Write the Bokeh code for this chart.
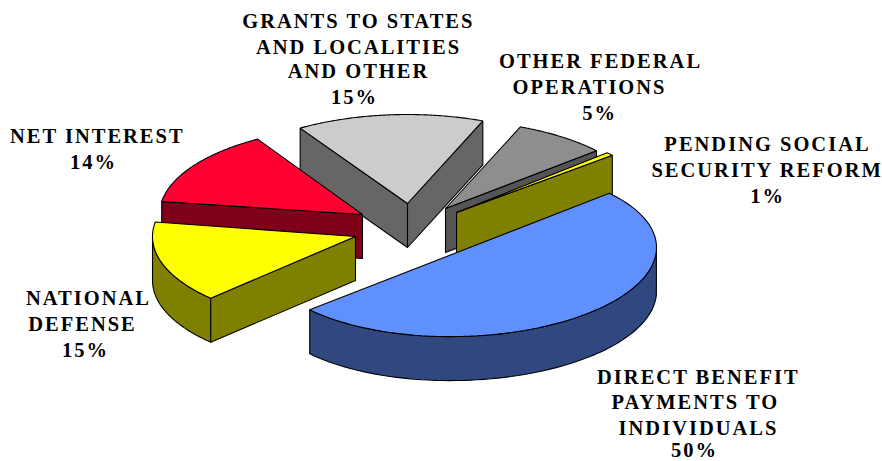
import numpy as np
from bokeh.plotting import figure
from bokeh.embed import file_html
from bokeh.resources import INLINE
from bokeh.core.properties import value

# data, in the chart's clockwise order, starting from the blue slice
names = ["DIRECT BENEFIT PAYMENTS TO INDIVIDUALS", "NATIONAL DEFENSE", "NET INTEREST",
         "GRANTS TO STATES AND LOCALITIES AND OTHER", "OTHER FEDERAL OPERATIONS",
         "PENDING SOCIAL SECURITY REFORM"]
shares = [50, 15, 14, 15, 5, 1]
label_lines = [["DIRECT BENEFIT", "PAYMENTS TO", "INDIVIDUALS"], ["NATIONAL", "DEFENSE"], ["NET INTEREST"],
               ["GRANTS TO STATES", "AND LOCALITIES", "AND OTHER"], ["OTHER FEDERAL", "OPERATIONS"],
               ["PENDING SOCIAL", "SECURITY REFORM"]]
top_colors = ["#6090FF", "#FFFF00", "#FF0033", "#CCCCCC", "#8E8E8E", "#FFFF00"]
side_colors = ["#30487F", "#808000", "#7F0019", "#666666", "#555555", "#808000"]

# layout of the exploded pie (pixels of the page)
cx = [459, 355, 362, 407, 445, 456]
cy = [251, 236, 214, 203, 208, 212]
rx = [197, 203, 203, 202, 200, 205]
ry = [85, 88, 88, 89, 88, 88]
rot = [-2, 2, 3, 4, 3.9, -3.4]       # turn of each slice caused by the 3-D view
stretch = [1, 1, 1, 1, 1.5, 0.6]     # widening of a slice's arc in the 3-D view
tilt = [4, 0, 0, 0, 0, 0]
depth = 44
start = 42.5
draw_order = [3, 2, 1, 4, 5, 0]
tracking = 2.0
font_px = 20.5
label_cx = [[698, 695, 698, 694], [88, 82, 85], [97, 93], [358, 358, 358, 354], [600, 589, 599], [767, 767, 767]]
label_cy = [[376, 401, 427, 449.5], [297, 323, 349], [135, 161], [20, 46, 70, 96], [60, 86, 112], [143, 169, 195]]

p = figure(width=882, height=461, x_range=(0, 882), y_range=(461, 0), toolbar_location=None,
           output_backend="svg", min_border=0, outline_line_color=None)
p.axis.visible = False
p.grid.visible = False
p.stylesheets = [f":host {{ letter-spacing: {tracking}px; }}"]

t1 = start
angles = []
for s in shares:
    angles.append((t1, t1 - s * 3.6))
    t1 -= s * 3.6


def pt(i, a_deg):
    a = np.radians(a_deg)
    return cx[i] + rx[i] * np.cos(a), cy[i] - ry[i] * np.sin(a) - tilt[i] * np.cos(a)


def draw(xs, ys, fill):
    p.patch(list(xs), list(ys), fill_color=fill, line_color="black", line_width=1.1)


for i in draw_order:
    a0, a1 = angles[i]
    b0 = a0 + rot[i]
    b1 = b0 - (a0 - a1) * stretch[i]
    th = np.linspace(b0, b1, 90)
    ax, ay = pt(i, th)
    x0, y0 = ax[0], ay[0]
    x1, y1 = ax[-1], ay[-1]
    # outer rim: only the front part of the arc shows
    front = np.sin(np.radians(th)) <= 0
    if front.any():
        fx, fy = ax[front], ay[front]
        draw(np.r_[fx, fx[::-1]], np.r_[fy, fy[::-1] + depth], side_colors[i])
    # radial faces, where the slice lies behind them
    for (ex, ey), (ox, oy) in (((x0, y0), (x1, y1)), ((x1, y1), (x0, y0))):
        line_y_at_o = cy[i] + (ey - cy[i]) * (ox - cx[i]) / (ex - cx[i])
        if oy < line_y_at_o:
            draw([cx[i], ex, ex, cx[i]], [cy[i], ey, ey + depth, cy[i] + depth], side_colors[i])
    draw(np.r_[cx[i], ax], np.r_[cy[i], ay], top_colors[i])

tx, ty, tt = [], [], []
for i, lines in enumerate(label_lines):
    for j, line in enumerate(lines + [f"{shares[i]}%"]):
        # the tracking is not known to Bokeh's centring, so take half of it back
        tx.append(label_cx[i][j] - tracking * len(line) / 2)
        ty.append(label_cy[i][j])
        tt.append(line)
p.text(tx, ty, text=tt, text_font=value("Liberation Serif"), text_font_style="bold",
       text_font_size=f"{font_px}px", text_align="center", text_baseline="middle", text_color="black")

open("out.html", "w").write(file_html(p, INLINE))
